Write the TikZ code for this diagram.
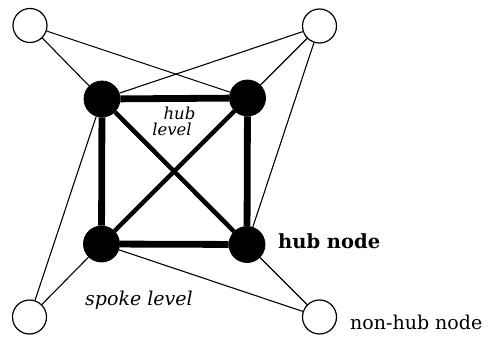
\documentclass[tikz,border=0pt]{standalone}
\usepackage{fontspec}
\setmainfont{DejaVu Serif}
\begin{document}
\begin{tikzpicture}[x=1pt,y=-1pt,
  hub/.style={circle,fill=black,draw=black,line width=0.8pt,minimum size=36pt,inner sep=0pt},
  leaf/.style={circle,fill=white,draw=black,line width=1.2pt,minimum size=34pt,inner sep=0pt},
  spoke/.style={line width=1.1pt},
  ring/.style={line width=6.8pt},
  cross/.style={line width=4.5pt},
  lbl/.style={inner sep=0pt,anchor=base west},
  lvl/.style={inner sep=0pt,anchor=base,font=\itshape\fontsize{16.5}{14}\selectfont}]
\path[use as bounding box] (0,0) rectangle (490,337);

% hub nodes
\node[hub] (hTL) at (102,99) {};
\node[hub] (hTR) at (247.5,98) {};
\node[hub] (hBL) at (101.5,244) {};
\node[hub] (hBR) at (247,244.5) {};

% non-hub nodes
\node[leaf] (wTL) at (30,25.5) {};
\node[leaf] (wTR) at (319.5,26) {};
\node[leaf] (wBL) at (29.5,317) {};
\node[leaf] (wBR) at (319.5,317) {};

% spoke links
\draw[spoke] (wTL) -- (hTL);
\draw[spoke] (wTL) -- (hTR);
\draw[spoke] (wTR) -- (hTL);
\draw[spoke] (wTR) -- (hTR);
\draw[spoke] (wTR) -- (hBR);
\draw[spoke] (wBL) -- (hTL);
\draw[spoke] (wBL) -- (hBL);
\draw[spoke] (wBR) -- (hBL);
\draw[spoke] (wBR) -- (hBR);

% hub level: full mesh
\draw[ring] (hTL) -- (hTR);
\draw[ring] (hTR) -- (hBR);
\draw[ring] (hBR) -- (hBL);
\draw[ring] (hBL) -- (hTL);
\draw[cross] (hTL) -- (hBR);
\draw[cross] (hTR) -- (hBL);

% labels
\node[lvl] (lh1) at (179.5,119.5) {hub};
\node[lvl] (lh2) at (172,135) {level};
\node[lbl,font=\bfseries\fontsize{19.5}{22}\selectfont] (lhub) at (278,248) {hub node};
\node[lbl,font=\fontsize{19}{22}\selectfont] (lnon) at (350,329) {non-hub node};
\node[lbl,font=\itshape\fontsize{19}{22}\selectfont] (lspoke) at (85,305) {spoke level};
\end{tikzpicture}
\end{document}
